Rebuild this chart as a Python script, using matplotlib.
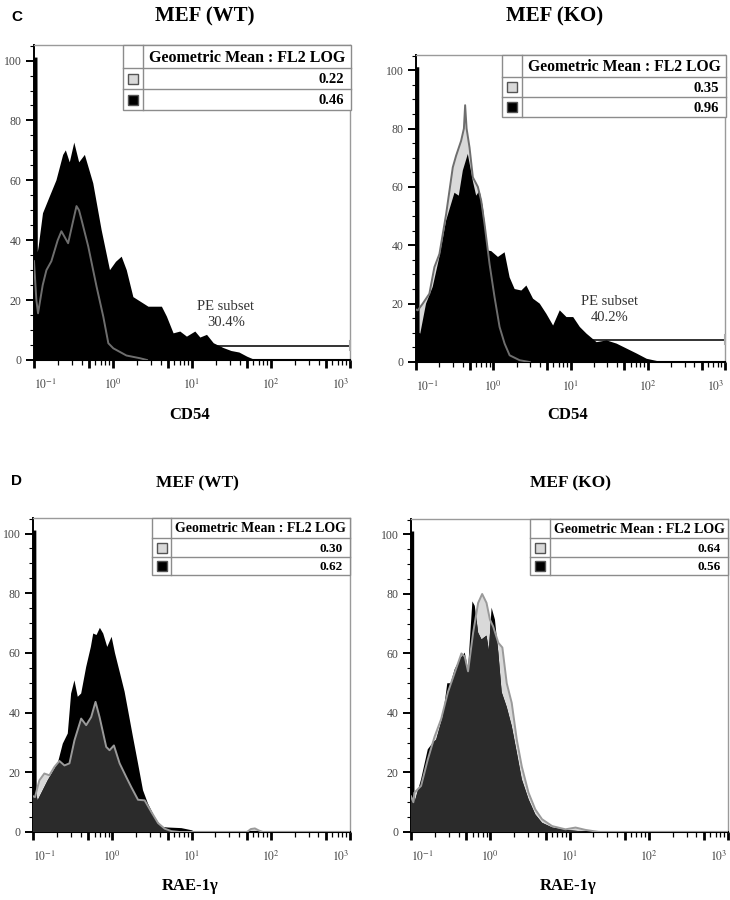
import numpy as np
import matplotlib
matplotlib.use('Agg')
import matplotlib.pyplot as plt
from matplotlib import ticker
from matplotlib.patches import Rectangle
from matplotlib.lines import Line2D

plt.rcParams['font.family'] = ['Liberation Serif', 'DejaVu Serif']
plt.rcParams['mathtext.fontset'] = 'stix'

# x values are log10(FL2), y values are % of max
# C, MEF (WT), CD54
c_wt_black_x = [-1.0, -0.956, -0.952, -0.94, -0.886, -0.80, -0.716, -0.631, -0.597, -0.547,
                -0.49, -0.428, -0.356, -0.25, -0.144, -0.038, 0.038, 0.11, 0.174, 0.258,
                0.449, 0.619, 0.682, 0.767, 0.852, 0.936, 1.042, 1.106, 1.19, 1.275,
                1.40, 1.50, 1.60, 1.70, 1.78, 1.91, 2.04, 3.0]
c_wt_black_y = [101, 101, 36, 38, 49, 54.6, 60, 68.5, 70, 66,
                72.6, 66, 68.5, 59, 43.4, 30, 32.8, 34.5, 30, 21,
                17.8, 17.8, 14.5, 8.9, 9.5, 7.8, 9.5, 7.5, 8.4, 5.6,
                4.0, 3.0, 2.5, 1.1, 0.2, 0.3, 0, 0]
c_wt_gray_x = [-1.0, -0.97, -0.949, -0.89, -0.843, -0.78, -0.70, -0.653, -0.568, -0.50,
               -0.462, -0.43, -0.398, -0.314, -0.208, -0.123, -0.059, 0.004, 0.17, 0.34, 0.43]
c_wt_gray_y = [33, 20, 15.6, 25, 30, 33, 40, 43, 39, 47,
               51.4, 50, 46.8, 38, 24.5, 14.5, 5.6, 3.9, 1.5, 0.6, 0]

# C, MEF (KO), CD54
c_ko_black_x = [-1.0, -0.958, -0.954, -0.945, -0.870, -0.784, -0.697, -0.610, -0.502, -0.446,
                -0.394, -0.329, -0.264, -0.221, -0.177, -0.134, -0.069, -0.026, 0.061, 0.147,
                0.212, 0.277, 0.364, 0.429, 0.515, 0.602, 0.688, 0.775, 0.861, 0.948,
                1.035, 1.121, 1.208, 1.338, 1.468, 1.597, 1.727, 1.857, 1.987, 2.18, 3.0]
c_ko_black_y = [101, 101, 10, 9.7, 20, 25.7, 36, 48.5, 58, 57,
                65.6, 71.3, 62, 57, 58.7, 53, 38.2, 38, 36, 37.6,
                29, 25, 24.5, 26.2, 21.7, 20, 16.5, 12.5, 17.7, 15.4,
                15.4, 12, 9.7, 6.8, 7.4, 6.3, 4.6, 2.9, 1.1, 0, 0]
c_ko_gray_x = [-1.0, -0.978, -0.913, -0.827, -0.762, -0.697, -0.610, -0.524, -0.481, -0.416,
               -0.38, -0.364, -0.345, -0.307, -0.264, -0.199, -0.156, -0.113, -0.048, 0.017,
               0.082, 0.147, 0.212, 0.342, 0.472]
c_ko_gray_y = [18, 17.7, 20, 23.4, 32.5, 37, 50.7, 66.7, 70.7, 75.8,
               80, 88, 80, 73.5, 63.3, 60, 55.3, 47.3, 33.6, 22.2,
               12, 6.3, 2.3, 0.6, 0]

# D, MEF (WT), RAE-1g
d_wt_black_x = [-1.0, -0.958, -0.954, -0.941, -0.814, -0.688, -0.624, -0.561, -0.519, -0.477,
                -0.435, -0.392, -0.329, -0.27, -0.24, -0.198, -0.156, -0.114, -0.063, -0.008,
                0.034, 0.1, 0.156, 0.198, 0.262, 0.325, 0.388, 0.451, 0.536, 0.620,
                0.705, 0.873, 1.0, 1.05, 3.0]
d_wt_black_y = [101, 101, 12, 10.6, 17.3, 23, 29.6, 33, 46.4, 50.8,
                45.3, 46.4, 55.3, 62, 66.5, 66, 68.4, 66.5, 62, 65.4,
                60, 53, 47, 41, 31.8, 23, 14, 9.5, 5, 1.7,
                1.5, 1.3, 0.6, 0, 0]
d_wt_gray_x = [-1.0, -0.975, -0.920, -0.857, -0.793, -0.730, -0.667, -0.603, -0.540, -0.477,
               -0.392, -0.329, -0.266, -0.211, -0.160, -0.076, -0.034, 0.021, 0.093, 0.177,
               0.241, 0.325, 0.409, 0.494, 0.578, 0.662, 0.747, 0.85, 1.70, 1.75,
               1.80, 1.85, 1.90, 3.0]
d_wt_gray_y = [12, 11.7, 17.3, 19.6, 19, 21.8, 23.8, 22.3, 23, 30.7,
               38, 35.8, 38.5, 43.6, 38.5, 28.5, 27.4, 29, 23, 18.4,
               15, 10.8, 10.6, 6.7, 3, 1.1, 0.3, 0, 0, 1.0,
               1.2, 0.5, 0, 0]

# D, MEF (KO), RAE-1g
d_ko_black_x = [-1.0, -0.960, -0.956, -0.950, -0.873, -0.788, -0.725, -0.682, -0.597, -0.542,
                -0.500, -0.449, -0.386, -0.322, -0.280, -0.246, -0.225, -0.195, -0.153, -0.110,
                -0.047, -0.017, 0.017, 0.059, 0.102, 0.144, 0.208, 0.271, 0.335, 0.398,
                0.483, 0.568, 0.653, 0.780, 0.949, 1.119, 1.288, 3.0]
d_ko_black_y = [101, 101, 10, 10.4, 17.7, 27.8, 30, 31, 39, 50,
                50, 54.7, 58, 60.3, 54.7, 69, 77.5, 76, 67, 64.7,
                66, 61, 75.4, 71.4, 60.3, 47, 42, 35.6, 26.7, 17.7,
                11, 5.9, 3.1, 1.5, 0.7, 0.3, 0, 0]
d_ko_gray_x = [-1.0, -0.97, -0.958, -0.873, -0.788, -0.703, -0.619, -0.534, -0.449, -0.364,
               -0.322, -0.280, -0.216, -0.153, -0.102, -0.047, -0.004, 0.038, 0.102, 0.153,
               0.208, 0.271, 0.335, 0.398, 0.483, 0.568, 0.653, 0.780, 0.949, 1.076,
               1.203, 1.373, 3.0]
d_ko_gray_y = [12, 10, 13.2, 15.5, 24.4, 32, 38, 47, 53.5, 60,
               59, 54, 67, 77, 80, 77, 71.4, 69, 63.6, 62,
               50, 43.4, 31, 22, 13.2, 7.6, 4.3, 2, 0.9, 1.5,
               0.7, 0, 0]

geo_header = 'Geometric Mean : FL2 LOG'
geo_c_wt = ['0.22', '0.46']
geo_c_ko = ['0.35', '0.96']
geo_d_wt = ['0.30', '0.62']
geo_d_ko = ['0.64', '0.56']

# PE subset gate: (level, label)
gate_c_wt = (4.7, 'PE subset\n30.4%')
gate_c_ko = (7.7, 'PE subset\n40.2%')

W, H = 730, 900
fig = plt.figure(figsize=(W / 100, H / 100), dpi=100)


def fx(p):
    return p / W


def fy(p):
    return 1 - p / H


def dec_label(v, pos):
    k = np.log10(v)
    if abs(k - round(k)) < 1e-6:
        return '$10^{%d}$' % int(round(k))
    return ''


def make_axes(x0, x1, y0, y1, yfs):
    ax = fig.add_axes([fx(x0), fy(y1), (x1 - x0) / W, (y1 - y0) / H])
    ax.set_xscale('log')
    ax.set_xlim(0.1, 1000)
    ax.set_ylim(0, 105.2)
    ax.xaxis.set_major_locator(ticker.LogLocator(base=10, subs=(1.0, 5.0), numticks=30))
    ax.xaxis.set_minor_locator(ticker.LogLocator(base=10, subs=(2, 3, 4, 6, 7, 8, 9), numticks=30))
    ax.xaxis.set_major_formatter(ticker.FuncFormatter(dec_label))
    ax.xaxis.set_minor_formatter(ticker.NullFormatter())
    ax.yaxis.set_major_locator(ticker.MultipleLocator(20))
    ax.yaxis.set_minor_locator(ticker.MultipleLocator(5))
    ax.tick_params(axis='x', which='major', length=6, width=2.0, pad=7,
                   labelsize=8.5, labelcolor='#444444')
    ax.tick_params(axis='x', which='minor', length=3.5, width=0.9)
    ax.tick_params(axis='y', which='major', length=6, width=1.4, pad=3,
                   labelsize=yfs, labelcolor='#444444')
    ax.tick_params(axis='y', which='minor', length=3, width=0.8)
    for s in ('top', 'right'):
        ax.spines[s].set_color('#9a9a9a')
        ax.spines[s].set_linewidth(1.0)
    ax.spines['left'].set_linewidth(1.4)
    ax.spines['bottom'].set_linewidth(1.5)
    return ax


def draw_hist(ax, bx, by, gx, gy, gray_line, dark_overlap):
    bx = 10 ** np.array(bx)
    gx = 10 ** np.array(gx)
    ax.fill_between(gx, gy, 0, facecolor='#d9d9d9', edgecolor='none', zorder=2)
    pb = ax.fill_between(bx, by, 0, facecolor='black', edgecolor='none', zorder=3)
    if dark_overlap:
        pd = ax.fill_between(gx, gy, 0, facecolor='#2b2b2b', edgecolor='none', zorder=4)
        pd.set_clip_path(pb.get_paths()[0], ax.transData)
    ax.plot(gx, gy, color=gray_line, lw=1.4, zorder=5)


def draw_gate(ax, gate, lx, ly):
    level, label = gate
    ax.plot([10 ** 1.0, 1000], [level, level], color='#333333', lw=1.4, zorder=1)
    ax.plot([1000, 1000], [level - 1.5, level + 1.5], color='#aaaaaa', lw=1.5,
            zorder=6, clip_on=False)
    ax.text(10 ** lx, ly, label, ha='center', va='center', fontsize=10.5,
            color='#333333', linespacing=1.25)


def draw_table(x0, xc, x1, ys, vals, fs_h, fs_v):
    edge = '#8c8c8c'
    fig.add_artist(Rectangle((fx(x0), fy(ys[3])), (x1 - x0) / W, (ys[3] - ys[0]) / H,
                             facecolor='white', edgecolor=edge, lw=1.0,
                             transform=fig.transFigure, zorder=2))
    for yy in ys[1:3]:
        fig.add_artist(Line2D([fx(x0), fx(x1)], [fy(yy), fy(yy)], color=edge, lw=1.0,
                              transform=fig.transFigure, zorder=3))
    fig.add_artist(Line2D([fx(xc), fx(xc)], [fy(ys[0]), fy(ys[3])], color=edge, lw=1.0,
                          transform=fig.transFigure, zorder=3))
    fig.text(fx((xc + x1) / 2), fy((ys[0] + ys[1]) / 2 + 1), geo_header, ha='center',
             va='center', fontsize=fs_h, fontweight='bold', zorder=4)
    for i, (val, col) in enumerate(zip(vals, ['#d9d9d9', 'black'])):
        ym = (ys[i + 1] + ys[i + 2]) / 2
        fig.text(fx(x1 - 7), fy(ym + 1), val, ha='right', va='center', fontsize=fs_v,
                 fontweight='bold', zorder=4)
        s = 10
        xm = (x0 + xc) / 2
        fig.add_artist(Rectangle((fx(xm - s / 2), fy(ym + s / 2)), s / W, s / H,
                                 facecolor=col, edgecolor='#555555', lw=1.0,
                                 transform=fig.transFigure, zorder=4))


# panel C
ax1 = make_axes(34, 350, 45, 360, 8.5)
draw_gate(ax1, gate_c_wt, 1.43, 15.2)
draw_hist(ax1, c_wt_black_x, c_wt_black_y, c_wt_gray_x, c_wt_gray_y, '#6e6e6e', False)
draw_table(123, 143, 351, [45, 68, 89, 110], geo_c_wt, 11.5, 10.5)

ax2 = make_axes(416, 725, 55, 362, 8.5)
draw_gate(ax2, gate_c_ko, 1.51, 18.0)
draw_hist(ax2, c_ko_black_x, c_ko_black_y, c_ko_gray_x, c_ko_gray_y, '#6e6e6e', False)
draw_table(502, 522, 726, [55, 77, 97, 117], geo_c_ko, 11.3, 10.5)

# panel D
ax3 = make_axes(33, 350, 518, 832, 8.5)
draw_hist(ax3, d_wt_black_x, d_wt_black_y, d_wt_gray_x, d_wt_gray_y, '#9a9a9a', True)
draw_table(152, 171, 350, [518, 538, 557, 575], geo_d_wt, 10, 9.5)

ax4 = make_axes(411, 728, 519, 832, 8.5)
draw_hist(ax4, d_ko_black_x, d_ko_black_y, d_ko_gray_x, d_ko_gray_y, '#9a9a9a', True)
draw_table(530, 550, 728, [519, 538, 557, 575], geo_d_ko, 10, 9.5)

# titles, axis labels, panel letters
fig.text(fx(205), fy(16), 'MEF (WT)', ha='center', va='center', fontsize=15, fontweight='bold')
fig.text(fx(555), fy(16), 'MEF (KO)', ha='center', va='center', fontsize=15, fontweight='bold')
fig.text(fx(197), fy(483), 'MEF (WT)', ha='center', va='center', fontsize=12.5, fontweight='bold')
fig.text(fx(571), fy(483), 'MEF (KO)', ha='center', va='center', fontsize=12.5, fontweight='bold')
fig.text(fx(190), fy(415), 'CD54', ha='center', va='center', fontsize=12, fontweight='bold')
fig.text(fx(568), fy(415), 'CD54', ha='center', va='center', fontsize=12, fontweight='bold')
fig.text(fx(190), fy(886), 'RAE-1γ', ha='center', va='center', fontsize=12, fontweight='bold')
fig.text(fx(568), fy(886), 'RAE-1γ', ha='center', va='center', fontsize=12, fontweight='bold')
fig.text(fx(17), fy(17), 'C', ha='center', va='center', fontsize=11, fontweight='bold',
         family='Liberation Sans')
fig.text(fx(17), fy(481), 'D', ha='center', va='center', fontsize=11, fontweight='bold',
         family='Liberation Sans')

# first/last decade labels sit inside the axis ends
fig.canvas.draw()
for ax in (ax1, ax2, ax3, ax4):
    for t in ax.xaxis.get_major_ticks():
        if np.isclose(t.get_loc(), 0.1):
            t.label1.set_ha('left')
        elif np.isclose(t.get_loc(), 1000):
            t.label1.set_ha('right')

fig.savefig('out.png', dpi=100)
